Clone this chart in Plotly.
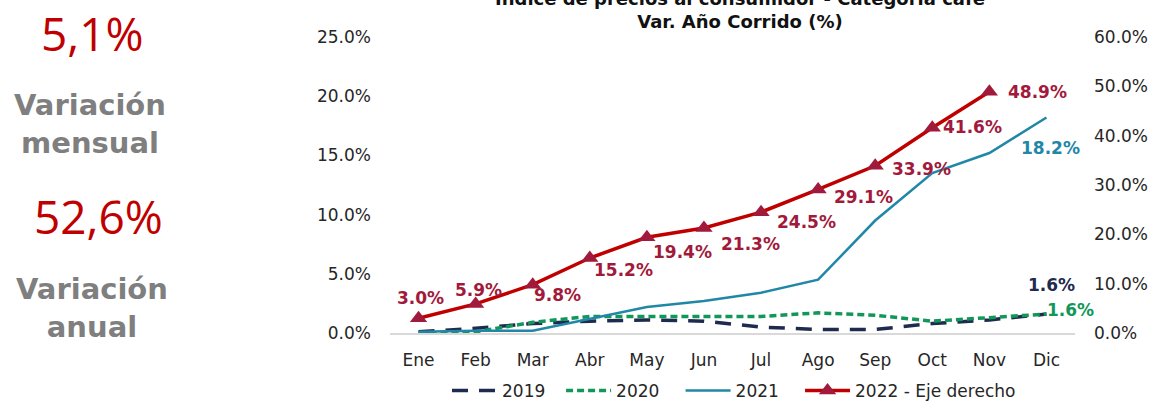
import plotly.graph_objects as go

months = ["Ene", "Feb", "Mar", "Abr", "May", "Jun", "Jul", "Ago", "Sep", "Oct", "Nov", "Dic"]
v2019 = [0.1, 0.4, 0.8, 1.0, 1.1, 1.0, 0.5, 0.3, 0.3, 0.8, 1.1, 1.6]
v2020 = [0.0, 0.1, 0.9, 1.4, 1.4, 1.4, 1.4, 1.7, 1.5, 1.0, 1.3, 1.6]
v2021 = [0.1, 0.2, 0.2, 1.2, 2.2, 2.7, 3.4, 4.5, 9.5, 13.5, 15.2, 18.2]
v2022 = [3.0, 5.9, 9.8, 15.2, 19.4, 21.3, 24.5, 29.1, 33.9, 41.6, 48.9]
series_names = ["2019", "2020", "2021", "2022 - Eje derecho"]
kpi_mensual = "5,1%"
kpi_anual = "52,6%"
title_text = "Indice de precios al consumidor - Categoría cafe<br>Var. Año Corrido (%)"

# label offsets (px) for 2022 data labels
off2022 = [(1.5, -20), (2.4, -14), (25, 10), (34, 12), (36, 15), (47, 16),
           (45, 10), (45, 8), (46, 3), (40, -1), (48, 0)]
# extra legend spacing (non-breaking spaces after each name)
leg_pad = [2, 3, 3, 0]

C19 = "#1F2A4F"
C20 = "#12975A"
C21 = "#2187A6"
C22 = "#C00000"
CLAB = "#A11A3B"
FONT = "DejaVu Sans"

# figure size and plot area in page pixels (body margin removed in post_script)
W, H = 1154, 402
L, R, T, B = 390, 1075, 37, 333

def py(p):  # page pixel y -> paper
    return (B - p) / (B - T)

def px(p):  # page pixel x -> paper
    return (p - L) / (R - L)

names = [n + "\u00a0" * k for n, k in zip(series_names, leg_pad)]

fig = go.Figure()
fig.add_trace(go.Scatter(x=months, y=v2019, name=names[0], mode="lines",
                         line=dict(color=C19, width=3.5, dash="16px,11px")))
fig.add_trace(go.Scatter(x=months, y=v2020, name=names[1], mode="lines",
                         line=dict(color=C20, width=3.5, dash="7px,4px")))
fig.add_trace(go.Scatter(x=months, y=v2021, name=names[2], mode="lines",
                         line=dict(color=C21, width=2.5)))
fig.add_trace(go.Scatter(x=months[:len(v2022)], y=v2022, name=names[3],
                         mode="lines+markers", yaxis="y2",
                         line=dict(color=C22, width=3.5),
                         marker=dict(symbol="triangle-up", size=15, color=CLAB)))

ann = []
for m, v, (dx, dy) in zip(months, v2022, off2022):
    ann.append(dict(x=m, y=v, xref="x", yref="y2", text=f"{v:.1f}%", showarrow=False,
                    xanchor="center", yanchor="middle", xshift=dx, yshift=-dy,
                    font=dict(family=FONT, size=17, color=CLAB, weight="bold")))
ann.append(dict(x=months[-1], y=v2019[-1], xref="x", yref="y", text=f"{v2019[-1]:.1f}%",
                showarrow=False, xanchor="center", yanchor="middle", xshift=5, yshift=29,
                font=dict(family=FONT, size=17, color=C19, weight="bold")))
ann.append(dict(x=months[-1], y=v2020[-1], xref="x", yref="y", text=f"{v2020[-1]:.1f}%",
                showarrow=False, xanchor="center", yanchor="middle", xshift=24, yshift=4,
                font=dict(family=FONT, size=17, color=C20, weight="bold")))
ann.append(dict(x=months[-1], y=v2021[-1], xref="x", yref="y", text=f"{v2021[-1]:.1f}%",
                showarrow=False, xanchor="center", yanchor="middle", xshift=4, yshift=-30,
                font=dict(family=FONT, size=17, color=C21, weight="bold")))

# title (first line partly cut at top as in reference)
ann.append(dict(x=px(740), y=py(10), xref="paper", yref="paper", text=title_text,
                showarrow=False, xanchor="center", yanchor="middle",
                font=dict(family=FONT, size=18, color="#111111", weight="bold")))

# KPI block on the left
ann.append(dict(x=px(92), y=py(33), xref="paper", yref="paper", text=kpi_mensual,
                showarrow=False, xanchor="center", yanchor="middle",
                font=dict(family="Open Sans", size=46, color=C22)))
ann.append(dict(x=px(90), y=py(124), xref="paper", yref="paper", text="<b>Variación<br>mensual</b>",
                showarrow=False, xanchor="center", yanchor="middle",
                font=dict(family=FONT, size=29, color="#7F7F7F")))
ann.append(dict(x=px(98), y=py(215.5), xref="paper", yref="paper", text=kpi_anual,
                showarrow=False, xanchor="center", yanchor="middle",
                font=dict(family="Open Sans", size=46, color=C22)))
ann.append(dict(x=px(92), y=py(308), xref="paper", yref="paper", text="<b>Variación<br>anual</b>",
                showarrow=False, xanchor="center", yanchor="middle",
                font=dict(family=FONT, size=29, color="#7F7F7F")))

fig.update_layout(
    width=W, height=H,
    margin=dict(l=L, r=W - R, t=T, b=H - B, pad=0, autoexpand=False),
    paper_bgcolor="white", plot_bgcolor="white",
    font=dict(family=FONT, size=17, color="#262626"),
    showlegend=True,
    legend=dict(orientation="h", x=px(447), xanchor="left", y=py(373), yanchor="top",
                font=dict(size=17, color="#262626"), itemwidth=45, tracegroupgap=0),
    xaxis=dict(range=[-0.5, 11.5], showgrid=False, showline=True, linecolor="#D9D9D9",
               linewidth=1.5, ticks="", ticklabelstandoff=11, zeroline=False, automargin=False),
    yaxis=dict(range=[0, 25], dtick=5, showgrid=False, zeroline=False, showline=False,
               ticksuffix="%", tickformat=".1f", ticklabelstandoff=18, automargin=False),
    yaxis2=dict(range=[0, 60], dtick=10, showgrid=False, zeroline=False, showline=False,
                overlaying="y", side="right", ticksuffix="%", tickformat=".1f",
                ticklabelstandoff=18, automargin=False),
    annotations=ann,
)

fig.write_html("out.html", config={"displayModeBar": False},
               post_script="document.body.style.margin='0';")
